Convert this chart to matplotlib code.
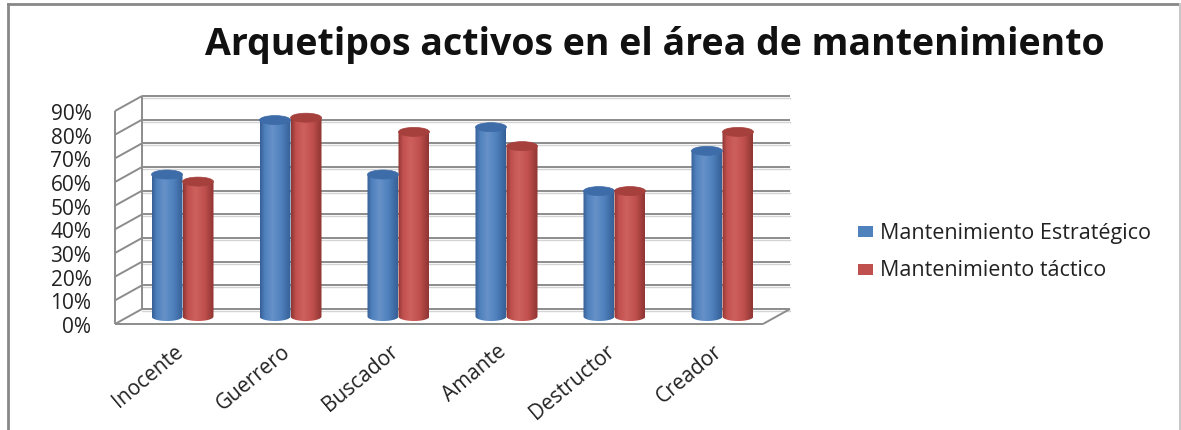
import numpy as np
import matplotlib
matplotlib.use("Agg")
import matplotlib.pyplot as plt
from matplotlib.patches import Ellipse, PathPatch
from matplotlib.path import Path
from matplotlib.lines import Line2D
import matplotlib.colors as mcolors

# ---- data ----
categories = ["Inocente", "Guerrero", "Buscador", "Amante", "Destructor", "Creador"]
series_names = ["Mantenimiento Estratégico", "Mantenimiento táctico"]
estrategico = [60, 83, 60, 80, 53, 70]
tactico = [57, 84, 78, 72, 53, 78]
y_ticks = [0, 10, 20, 30, 40, 50, 60, 70, 80, 90]
title = "Arquetipos activos en el área de mantenimiento"

plt.rcParams['font.family'] = ['Open Sans', 'DejaVu Sans']

W, H = 1181, 431
fig = plt.figure(figsize=(W / 100, H / 100), dpi=100)

# front plane of the 3-D box, in pixels (from top-left)
AX_L, AX_R, AX_T, AX_B = 115, 763, 112, 325
ax = fig.add_axes([AX_L / W, 1 - AX_B / H, (AX_R - AX_L) / W, (AX_B - AX_T) / H])
ax.set_xlim(-0.5, len(categories) - 0.5)
ax.set_ylim(0, 90)
ux = (AX_R - AX_L) / len(categories)
uy = (AX_B - AX_T) / 90.0


def dxu(px):
    return px / ux


def dyu(px):
    return px / uy


DEPTH_X, DEPTH_Y = 27, 15  # px offset of the back wall
GRID = '#8c8c8c'
grid_kw = dict(color=GRID, lw=1.4, clip_on=False, solid_capstyle='butt', zorder=1)
shadow_kw = dict(color='#d4d4d4', lw=1.0, clip_on=False, zorder=0.9)

x0, x1 = -0.5, len(categories) - 0.5
bx, by = dxu(DEPTH_X), dyu(DEPTH_Y)
for v in y_ticks:
    ax.plot([x0 + bx, x1 + bx], [v + by, v + by], **grid_kw)
    ax.plot([x0 + bx, x1 + bx], [v + by - dyu(2), v + by - dyu(2)], **shadow_kw)
    ax.plot([x0, x0 + bx], [v, v + by], **grid_kw)
# walls / floor edges
ax.plot([x0, x0], [0, 90], **grid_kw)
ax.plot([x0 + bx, x0 + bx], [by, 90 + by], **grid_kw)
ax.plot([x0, x1], [0, 0], **grid_kw)
ax.plot([x1, x1 + bx], [0, by], **grid_kw)

# ---- cylinders ----
BAR_W = 31  # px
RY = 4.5    # px, vertical radius of the ellipses
colors = [("#4F81BD", "#365F96", "#6691C8", "#3E6CA8"),
          ("#C0504D", "#8F3533", "#CD605D", "#A5403D")]


def cylinder(xl, w, base, top, col):
    body, edge, light, cap = col
    ry = dyu(RY)
    # outline: left side, bottom half-ellipse, right side
    t = np.linspace(np.pi, 2 * np.pi, 40)
    cx = xl + w / 2
    bottom = np.column_stack([cx + w / 2 * np.cos(t), base + ry * np.sin(t)])
    verts = np.vstack([[xl, top], bottom, [xl + w, top], [xl, top]])
    patch = PathPatch(Path(verts), facecolor='none', edgecolor='none')
    ax.add_patch(patch)
    # horizontal shading across the cylinder
    cmap = mcolors.LinearSegmentedColormap.from_list(
        'cyl', [(0, edge), (0.15, body), (0.4, light), (0.7, body), (1, edge)])
    grad = np.linspace(0, 1, 64)[None, :]
    im = ax.imshow(grad, cmap=cmap, extent=[xl, xl + w, base - ry, top],
                   aspect='auto', origin='lower', zorder=3, interpolation='bicubic')
    im.set_clip_path(patch)
    ax.add_patch(Ellipse((cx, top), w, 2 * ry, facecolor=cap, edgecolor=cap,
                         lw=0.5, zorder=4, clip_on=False))


mx, my = dxu(DEPTH_X / 2), dyu(DEPTH_Y / 2)
bw = dxu(BAR_W)
for i in range(len(categories)):
    c = i + mx
    cylinder(c - bw, bw, my, estrategico[i] + my, colors[0])
    cylinder(c, bw, my, tactico[i] + my, colors[1])

ax.set_xlim(x0, x1)
ax.set_ylim(0, 90)
for s in ax.spines.values():
    s.set_visible(False)
ax.patch.set_alpha(0)

ax.set_yticks(y_ticks)
ax.set_yticklabels([f"{v}%" for v in y_ticks], fontsize=15, color='#222222')
ax.tick_params(axis='y', length=0, pad=17)
ax.set_xticks([])
for i, name in enumerate(categories):
    ax.text(i + dxu(11), -dyu(24), name, rotation=40, rotation_mode='anchor',
            ha='right', va='center', fontsize=15, color='#222222')

# ---- title ----
fig.text(655 / W, 1 - 45 / H, title, ha='center', va='center',
         fontsize=27, fontweight='bold', color='#111111')

# ---- legend ----
for k, (name, col) in enumerate(zip(series_names, ["#4F81BD", "#C0504D"])):
    yc = 233 + k * 38
    fig.patches.append(plt.Rectangle((858 / W, 1 - (yc + 5) / H), 15 / W, 11 / H,
                                     transform=fig.transFigure, facecolor=col,
                                     edgecolor='none'))
    fig.text(880 / W, 1 - yc / H, name, ha='left', va='center', fontsize=15.5,
             color='#222222')

# ---- chart border ----
fig.add_artist(Line2D([8 / W, 1180 / W], [1 - 5 / H, 1 - 5 / H],
                      transform=fig.transFigure, color='#888888', lw=2))
fig.add_artist(Line2D([8 / W, 8 / W], [1 - 5 / H, 0],
                      transform=fig.transFigure, color='#888888', lw=2))
fig.add_artist(Line2D([1180 / W, 1180 / W], [1 - 5 / H, 0],
                      transform=fig.transFigure, color='#c8c8c8', lw=1.5))

fig.savefig("out.png", dpi=100, facecolor='white')
